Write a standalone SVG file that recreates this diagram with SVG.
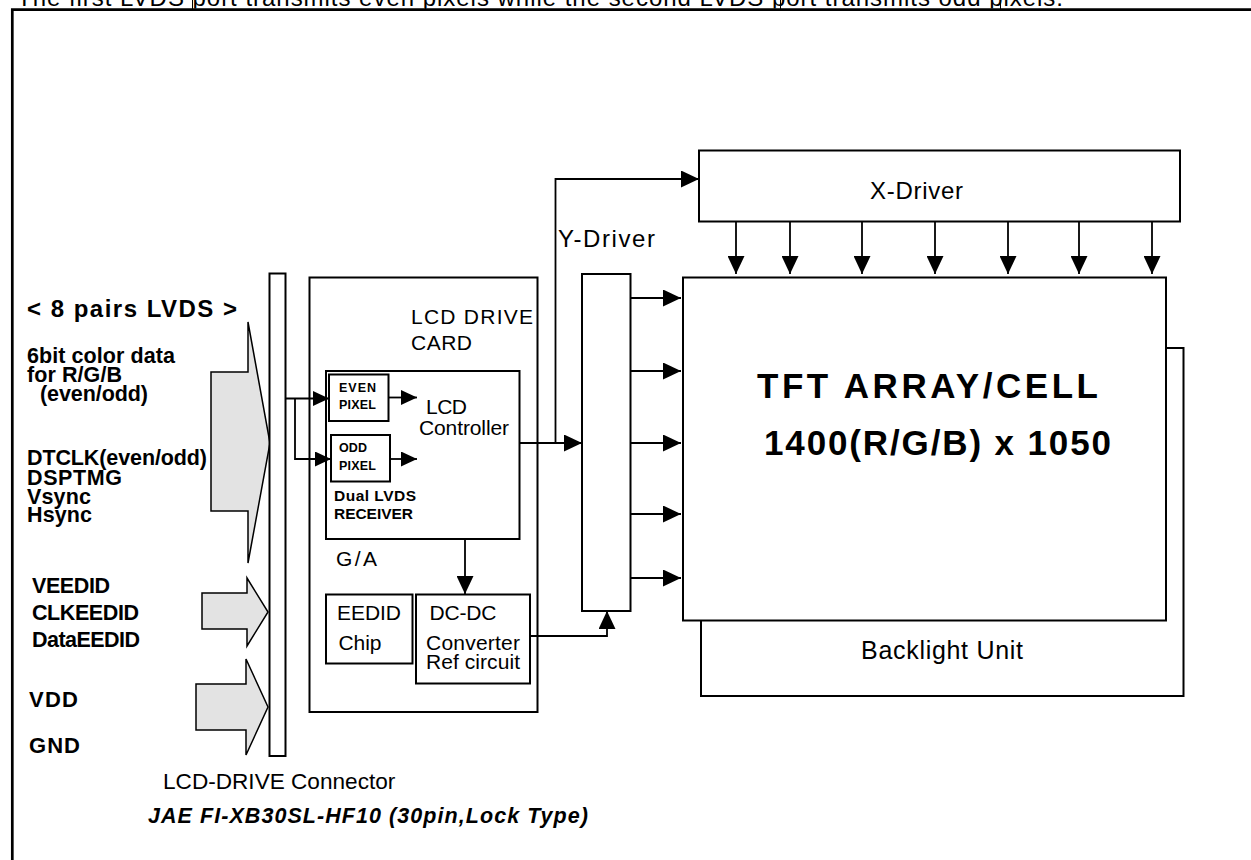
<svg xmlns="http://www.w3.org/2000/svg" width="1251" height="860" viewBox="0 0 1251 860">
<style>
.box{fill:#fff;stroke:#000;stroke-width:2}
.ln{fill:none;stroke:#000;stroke-width:1.8}
.big{fill:#e3e3e3;stroke:#000;stroke-width:1.5}
text{font-family:"Liberation Sans",Arial,sans-serif;fill:#000}
.b{font-weight:bold}
.r{font-size:21px}
.lb{font-size:21.5px;font-weight:bold}
</style>
<defs>
<marker id="ah" viewBox="0 0 18 17" refX="18" refY="8.5" markerWidth="18" markerHeight="17" markerUnits="userSpaceOnUse" orient="auto"><path d="M0,0 L18,8.5 L0,17 z" fill="#000"/></marker>
<marker id="as" viewBox="0 0 16 15" refX="16" refY="7.5" markerWidth="16" markerHeight="15" markerUnits="userSpaceOnUse" orient="auto"><path d="M0,0 L16,7.5 L0,15 z" fill="#000"/></marker>
<clipPath id="topclip"><rect x="0" y="0" width="1251" height="8.5"/></clipPath>
</defs>

<g id="header">
<text x="17" y="6" font-size="24" textLength="1046" lengthAdjust="spacing" clip-path="url(#topclip)">The first LVDS port transmits even pixels while the second LVDS port transmits odd pixels.</text>
<path d="M192.5,0 V9 M425.5,0 V9 M780.5,0 V9 M1000.5,0 V9" stroke="#000" stroke-width="1"/>
</g>

<g id="frame">
<path d="M12.3,860 V9.7 H1251" fill="none" stroke="#000" stroke-width="2.7"/>
</g>

<g id="inputs">
<text x="27" y="317" font-size="24" class="b" textLength="210" lengthAdjust="spacing">&lt; 8 pairs LVDS &gt;</text>
<text x="27" y="363" class="lb" textLength="148" lengthAdjust="spacing">6bit color data</text>
<text x="27" y="381.5" class="lb" textLength="95" lengthAdjust="spacing">for R/G/B</text>
<text x="40" y="401" class="lb" textLength="108" lengthAdjust="spacing">(even/odd)</text>
<text x="27" y="465" class="lb" textLength="180" lengthAdjust="spacing">DTCLK(even/odd)</text>
<text x="27" y="485" class="lb" textLength="95" lengthAdjust="spacing">DSPTMG</text>
<text x="27" y="503.5" class="lb" textLength="64" lengthAdjust="spacing">Vsync</text>
<text x="27" y="522" class="lb" textLength="65" lengthAdjust="spacing">Hsync</text>
<text x="32" y="593" class="lb" textLength="78" lengthAdjust="spacing">VEEDID</text>
<text x="32" y="620" class="lb" textLength="107" lengthAdjust="spacing">CLKEEDID</text>
<text x="32" y="647" class="lb" textLength="108" lengthAdjust="spacing">DataEEDID</text>
<text x="29" y="707" font-size="22" class="b" textLength="49" lengthAdjust="spacing">VDD</text>
<text x="29" y="753" font-size="22" class="b" textLength="51" lengthAdjust="spacing">GND</text>
</g>

<g id="bigarrows">
<polygon class="big" points="211,372 248,372 248,322 270,443 248,563 248,511 211,511"/>
<polygon class="big" points="202,593 247,593 247,578 268,612 247,646 247,629 202,629"/>
<polygon class="big" points="196,684 246,684 246,659 268,707 246,755 246,730 196,730"/>
</g>

<g id="connector-bar">
<rect class="box" x="269.5" y="273.5" width="16" height="482.5"/>
<text x="163" y="789" font-size="22.6">LCD-DRIVE Connector</text>
<text x="148" y="823" font-size="21.5" font-weight="bold" font-style="italic" textLength="440" lengthAdjust="spacing">JAE FI-XB30SL-HF10 (30pin,Lock Type)</text>
</g>

<g id="lcd-drive-card">
<rect class="box" x="309.5" y="277.5" width="228" height="434.5"/>
<text x="411" y="324" class="r" textLength="122" lengthAdjust="spacing">LCD DRIVE</text>
<text x="411" y="350" class="r" textLength="61" lengthAdjust="spacing">CARD</text>
</g>

<g id="ga">
<rect class="box" x="326" y="371" width="193.5" height="168"/>
<text x="426" y="413.5" class="r" textLength="41" lengthAdjust="spacing">LCD</text>
<text x="419" y="435" class="r" textLength="90" lengthAdjust="spacing">Controller</text>
<text x="334" y="501" font-size="15.5" class="b" textLength="82" lengthAdjust="spacing">Dual LVDS</text>
<text x="334" y="519" font-size="15.5" class="b" textLength="79" lengthAdjust="spacing">RECEIVER</text>
<text x="336" y="566" class="r" textLength="41" lengthAdjust="spacing">G/A</text>
</g>

<g id="even-pixel">
<rect class="box" x="329" y="374.5" width="59.5" height="46.5"/>
<text x="339" y="392" font-size="12.5" class="b" textLength="37" lengthAdjust="spacing">EVEN</text>
<text x="339" y="408.5" font-size="12.5" class="b" textLength="37" lengthAdjust="spacing">PIXEL</text>
</g>

<g id="odd-pixel">
<rect class="box" x="331" y="435" width="59" height="46.5"/>
<text x="339" y="452" font-size="12.5" class="b" textLength="28" lengthAdjust="spacing">ODD</text>
<text x="339" y="470" font-size="12.5" class="b" textLength="37" lengthAdjust="spacing">PIXEL</text>
</g>

<g id="eedid">
<rect class="box" x="326" y="594.5" width="86.5" height="69"/>
<text x="337" y="619.5" class="r" textLength="64" lengthAdjust="spacing">EEDID</text>
<text x="338.5" y="650" class="r" textLength="43" lengthAdjust="spacing">Chip</text>
</g>

<g id="dcdc">
<rect class="box" x="416" y="594.5" width="114" height="89"/>
<text x="429.5" y="619.5" class="r" textLength="67" lengthAdjust="spacing">DC-DC</text>
<text x="426" y="649.5" class="r" textLength="94" lengthAdjust="spacing">Converter</text>
<text x="426" y="668.5" class="r" textLength="94" lengthAdjust="spacing">Ref circuit</text>
</g>

<g id="y-driver">
<rect class="box" x="582" y="274" width="48.5" height="337"/>
<text x="558" y="247" font-size="24" textLength="97" lengthAdjust="spacing">Y-Driver</text>
</g>

<g id="x-driver">
<rect class="box" x="699" y="150.5" width="481" height="71"/>
<text x="870" y="199" font-size="24" textLength="93" lengthAdjust="spacing">X-Driver</text>
</g>

<g id="backlight">
<rect class="box" x="701" y="348" width="482.5" height="348"/>
<text x="861" y="659" font-size="25" textLength="162" lengthAdjust="spacing">Backlight Unit</text>
</g>

<g id="tft">
<rect class="box" x="683" y="277.5" width="483" height="343"/>
<text x="757" y="398" font-size="35" class="b" textLength="341" lengthAdjust="spacing">TFT ARRAY/CELL</text>
<text x="764" y="455" font-size="35" class="b" textLength="347" lengthAdjust="spacing">1400(R/G/B) x 1050</text>
</g>

<g id="connectors">
<path class="ln" d="M286,398.5 H329" marker-end="url(#as)"/>
<path class="ln" d="M295,398.5 V459 H331" marker-end="url(#as)"/>
<path class="ln" d="M388.5,397.5 H417" marker-end="url(#as)"/>
<path class="ln" d="M390,459 H417" marker-end="url(#as)"/>
<path class="ln" d="M519.5,443 H582" marker-end="url(#ah)"/>
<path class="ln" d="M555.5,443 V179 H699" marker-end="url(#ah)"/>
<path class="ln" d="M465,539 V594" marker-end="url(#ah)"/>
<path class="ln" d="M530,636 H607 V611" marker-end="url(#ah)"/>
<path class="ln" d="M630.5,298 H681" marker-end="url(#ah)"/>
<path class="ln" d="M630.5,371 H681" marker-end="url(#ah)"/>
<path class="ln" d="M630.5,443 H681" marker-end="url(#ah)"/>
<path class="ln" d="M630.5,514 H681" marker-end="url(#ah)"/>
<path class="ln" d="M630.5,578 H681" marker-end="url(#ah)"/>
<path class="ln" d="M736,222 V274" marker-end="url(#ah)"/>
<path class="ln" d="M790,222 V274" marker-end="url(#ah)"/>
<path class="ln" d="M862,222 V274" marker-end="url(#ah)"/>
<path class="ln" d="M935,222 V274" marker-end="url(#ah)"/>
<path class="ln" d="M1008,222 V274" marker-end="url(#ah)"/>
<path class="ln" d="M1079,222 V274" marker-end="url(#ah)"/>
<path class="ln" d="M1152,222 V274" marker-end="url(#ah)"/>
</g>
</svg>
